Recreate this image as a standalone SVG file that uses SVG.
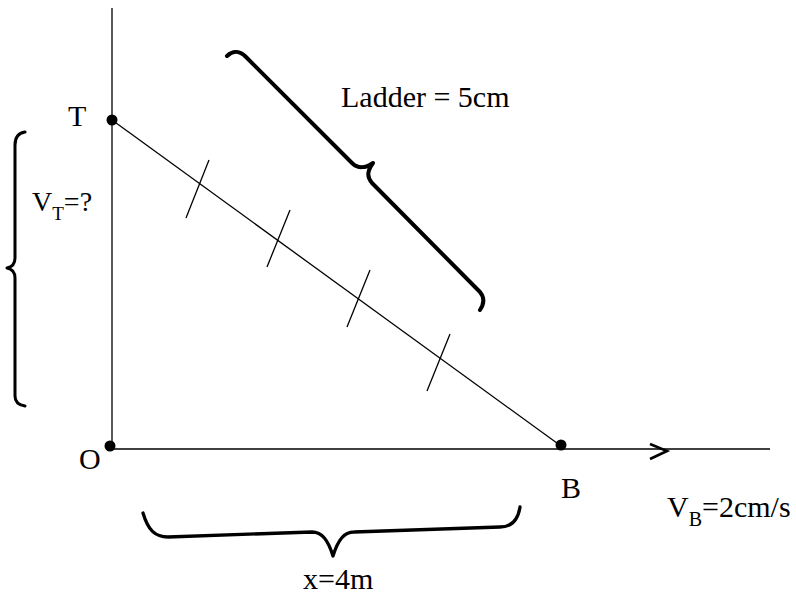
<svg xmlns="http://www.w3.org/2000/svg" width="796" height="597" viewBox="0 0 796 597">
<style>
.ln{stroke:#000;stroke-width:1.3;fill:none}
.tk{stroke:#000;stroke-width:1.3;fill:none}
.br{stroke:#000;fill:none;stroke-linecap:round;stroke-linejoin:round}
.t{font-family:"Liberation Serif","Times New Roman",serif;font-size:30px;fill:#000}
.s{font-size:20px}
</style>
<rect width="796" height="597" fill="#fff"/>
<g id="axes">
<line class="ln" x1="112" y1="8" x2="112" y2="450"/>
<line class="ln" x1="112" y1="449" x2="770" y2="449"/>
<path d="M650,444 L667,451 L650,459" stroke="#000" stroke-width="2.6" fill="none"/>
</g>
<g id="connectors">
<line class="ln" x1="112" y1="120" x2="561" y2="446"/>
<line class="tk" x1="209" y1="160" x2="186" y2="218"/>
<line class="tk" x1="290" y1="210" x2="267" y2="267"/>
<line class="tk" x1="370" y1="270" x2="347" y2="327"/>
<line class="tk" x1="450" y1="334" x2="427" y2="391"/>
</g>
<g id="T"><circle cx="112" cy="120" r="5.5"/><text class="t" x="68" y="126">T</text></g>
<g id="O"><circle cx="110" cy="446" r="5.5"/><text class="t" x="79" y="469">O</text></g>
<g id="B"><circle cx="561" cy="445" r="5.5"/><text class="t" x="561" y="498">B</text></g>
<g id="ladder-brace">
<path class="br" stroke-width="4" d="M227,56 C233,50 240,51 246,57 L352,163 C358,169 366,168 373,163 C368,170 366,176 372,183 L480,292 C485,298 484,304 480,310"/>
<text class="t" x="341" y="107">Ladder = 5cm</text>
</g>
<g id="vt-brace">
<path class="br" stroke-width="3" d="M25,132 C18,133 15,137 15,145 L15,258 C15,264 12,267 7,268 C12,269 15,272 15,278 L15,396 C15,402 18,405 25,406"/>
<text class="t" style="font-size:28px" x="32" y="211">V<tspan class="s" style="font-size:19px" dy="9">T</tspan><tspan dy="-9">=?</tspan></text>
</g>
<g id="x-brace">
<path class="br" stroke-width="3.3" d="M143,513 C148,530 155,537 168,537 L312,532 C322,532 328,540 333,556 C338,540 344,532 354,532 L500,527 C512,527 518,520 520,507"/>
<text class="t" x="303" y="589">x=4m</text>
</g>
<g id="vb">
<text class="t" x="667" y="517">V<tspan class="s" dy="9">B</tspan><tspan dy="-9">=2cm/s</tspan></text>
</g>
</svg>
